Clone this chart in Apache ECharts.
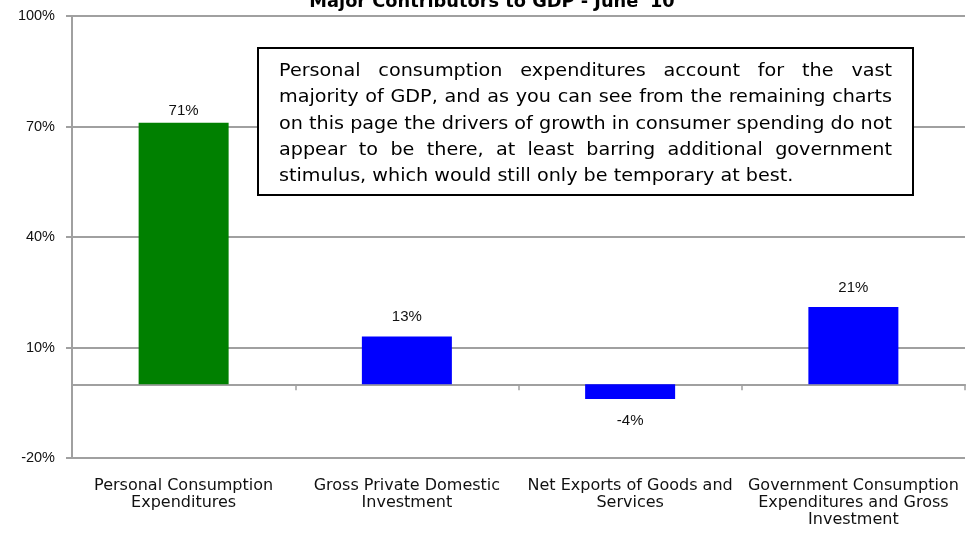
<!DOCTYPE html>
<html>
<head>
<meta charset="utf-8">
<script src="https://cdn.jsdelivr.net/npm/echarts@6/dist/echarts.min.js"></script>
<style>
  html, body { margin: 0; padding: 0; background: #fff; }
  #main { width: 970px; height: 534px; }
</style>
</head>
<body>
<div id="main"></div>
<script>
// data
const categories = [
  "Personal Consumption\nExpenditures",
  "Gross Private Domestic\nInvestment",
  "Net Exports of Goods and\nServices",
  "Government Consumption\nExpenditures and Gross\nInvestment"
];
const shares = [71, 13, -4, 21];
const barColors = ["#008000", "#0000ff", "#0000ff", "#0000ff"];
const yTicks = { min: -20, max: 100, step: 30 };

const noteLines = [
  "Personal consumption expenditures account for the vast",
  "majority of GDP, and as you can see from the remaining charts",
  "on this page the drivers of growth in consumer spending  do not",
  "appear to be there, at least barring additional government",
  "stimulus, which would still only be temporary at best."
];

const font = "'DejaVu Sans'";
const numFont = "'Liberation Sans'";
const labelGap = [4, 12, 14, 12];

// note box: justified lines like the original text box
const box = { x: 258, y: 48, w: 655, h: 147 };
const note = { size: 18, lead: 26.4, stretch: 1.065, padX: 21, padY: 10 };

function noteElements() {
  const ctx = document.createElement("canvas").getContext("2d");
  ctx.font = note.size + "px " + font;
  const full = box.w - 2 * note.padX;
  const els = [];
  const word = (t, x, y) => ({
    type: "text", x: x, y: y, scaleX: note.stretch, z: 11,
    style: { text: t, font: note.size + "px " + font, fill: "#000", lineHeight: note.lead, textVerticalAlign: "top" }
  });
  noteLines.forEach((line, li) => {
    const y = box.y + note.padY + li * note.lead;
    if (li === noteLines.length - 1) {
      els.push(word(line, box.x + note.padX, y));
      return;
    }
    const words = line.split(/\s+/);
    const widths = words.map(w => ctx.measureText(w).width * note.stretch);
    const used = widths.reduce((a, b) => a + b, 0);
    const gap = (full - used) / (words.length - 1);
    let x = box.x + note.padX;
    words.forEach((w, wi) => {
      els.push(word(w, x, y));
      x += widths[wi] + gap;
    });
  });
  return els;
}

const chart = echarts.init(document.getElementById("main"));

chart.setOption({
  animation: false,
  textStyle: { fontFamily: font },
  title: {
    text: "Major Contributors to GDP - June '10",
    left: 487,
    textAlign: "center",
    top: -12,
    textStyle: { fontFamily: font, fontSize: 17.8, fontWeight: "bold", color: "#000" }
  },
  grid: { left: 72, right: 5, top: 16, bottom: 76, outerBoundsMode: "none" },
  xAxis: [{
    // labels along the bottom
    type: "category",
    data: categories,
    axisLine: { show: false, onZero: false },
    axisTick: { show: false },
    axisLabel: {
      color: "#111", fontFamily: font, fontSize: 16, lineHeight: 17,
      interval: 0, margin: 19
    }
  }, {
    // the zero line with its ticks
    type: "category",
    data: categories,
    position: "bottom",
    axisLine: { onZero: true, lineStyle: { color: "#a0a0a0", width: 2 } },
    axisTick: { show: true, length: 6, lineStyle: { color: "#a0a0a0", width: 1.5 } },
    axisLabel: { show: false }
  }],
  yAxis: {
    type: "value",
    min: yTicks.min, max: yTicks.max, interval: yTicks.step,
    axisLine: { show: true, lineStyle: { color: "#a0a0a0", width: 2 } },
    axisTick: { show: true, length: 6, lineStyle: { color: "#a0a0a0", width: 2 } },
    splitLine: { show: true, lineStyle: { color: "#a0a0a0", width: 2 } },
    axisLabel: { formatter: "{value}%", color: "#111", fontFamily: numFont, fontSize: 14.5, margin: 17 }
  },
  series: [{
    type: "bar",
    xAxisIndex: 0,
    barWidth: 90,
    data: shares.map((v, i) => ({
      value: v,
      itemStyle: { color: barColors[i] },
      label: {
        show: true,
        position: v < 0 ? "bottom" : "top",
        distance: labelGap[i],
        formatter: "{c}%",
        color: "#111", fontFamily: numFont, fontSize: 15
      }
    }))
  }],
  graphic: [
    { type: "rect", shape: { x: box.x, y: box.y, width: box.w, height: box.h },
      style: { fill: "#fff", stroke: "#000", lineWidth: 2 }, z: 10 }
  ].concat(noteElements())
});
</script>
</body>
</html>
